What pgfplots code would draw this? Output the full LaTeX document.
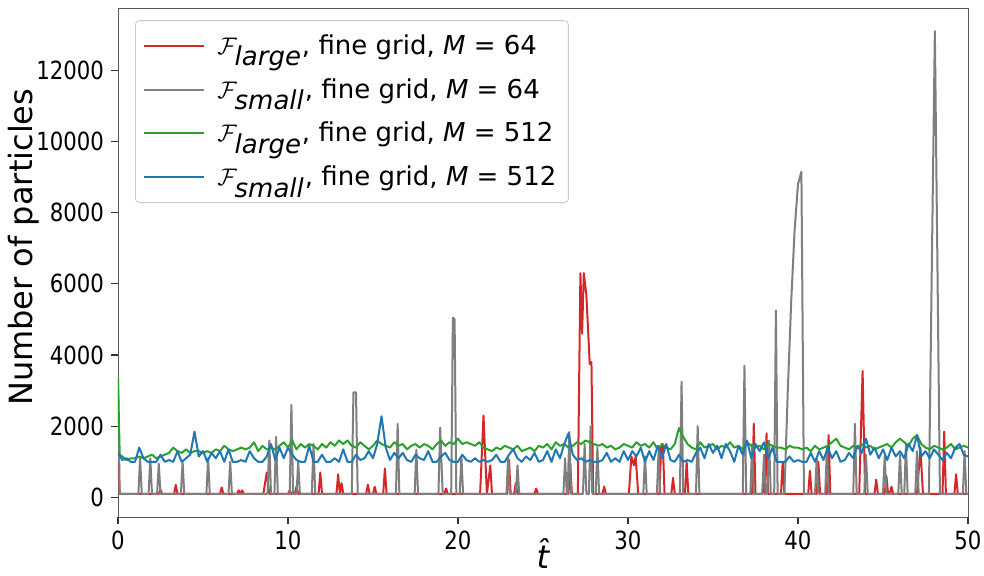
\documentclass[border=0pt]{standalone}
\usepackage{fontspec}
\setmainfont{DejaVu Sans}
\newfontfamily\tickfont[FakeStretch=0.85]{DejaVu Sans}
\usepackage{pgfplots}
\pgfplotsset{compat=1.18}
\definecolor{tred}{HTML}{D62728}
\definecolor{tgray}{HTML}{7F7F7F}
\definecolor{tgreen}{HTML}{2CA02C}
\definecolor{tblue}{HTML}{1F77B4}
\begin{document}
\begin{tikzpicture}
\begin{axis}[
  at={(0,0)}, anchor=south west,
  scale only axis, width=425pt, height=254.5pt,
  xmin=0, xmax=50, ymin=-550, ymax=13750,
  xtick={0,10,20,30,40,50},
  ytick={0,2000,4000,6000,8000,10000,12000},
  scaled y ticks=false, scaled x ticks=false,
  xtick pos=bottom, ytick pos=left,
  tick align=outside,
  major tick length=3.5pt,
  axis line style={black!65},
  tick style={black!80, line width=0.6pt},
  /pgf/number format/assume math mode=true,
  /pgf/number format/1000 sep={},
  ticklabel style={font=\tickfont\fontsize{12.5}{14}\selectfont},
  xlabel={\textit{\^{t}}},
  xlabel style={font=\fontsize{16}{19}\selectfont, at={(axis description cs:0.5,-0.072)}, anchor=center},
  ylabel={Number of particles},
  ylabel style={font=\fontsize{16}{19}\selectfont, at={(axis description cs:-0.111,0.53)}, anchor=center},
  legend style={at={(axis description cs:0.02,0.976)}, anchor=north west,
    draw=black!20, rounded corners=2pt, fill=white,
    font=\fontsize{13}{15}\selectfont, row sep=6.5pt, inner xsep=4pt, inner ysep=5pt,
    /tikz/every odd column/.append style={column sep=4pt}},
  legend cell align=left,
  legend image code/.code={\draw[#1] (0pt,0pt) -- (30pt,0pt);},
  every axis plot/.append style={line width=1pt, line join=round},
]
\addplot[tred] coordinates {
(0,1100)(0.1,100)
(2.4,100)(2.5,220)(2.6,100)
(3.3,100)(3.4,350)(3.5,100)
(6.0,100)(6.1,280)(6.2,100)
(7.0,100)(7.1,200)(7.2,100)(7.3,200)(7.4,100)
(8.55,100)(8.75,700)(8.9,100)
(10.0,100)(10.1,200)(10.2,100)
(10.4,100)(10.5,300)(10.6,100)
(11.8,100)(11.9,700)(12.0,100)
(12.85,100)(12.95,650)(13.05,100)(13.15,400)(13.25,100)
(14.6,100)(14.7,360)(14.8,100)
(15.0,100)(15.1,300)(15.2,100)
(15.6,100)(15.7,810)(15.8,100)
(19.2,100)(19.3,250)(19.4,100)
(21.3,100)(21.5,2300)(21.7,100)(21.9,900)(22.0,100)
(22.9,100)(23.0,1050)(23.1,100)(23.3,100)(23.4,400)(23.5,100)
(24.5,100)(24.6,250)(24.7,100)
(26.5,100)(26.6,950)(26.7,100)
(27.05,100)(27.2,6300)(27.3,4600)(27.4,6300)(27.55,5700)(27.75,3750)(27.85,3800)(27.95,100)
(28.5,100)(28.6,300)(28.7,100)
(30.05,100)(30.2,1150)(30.35,900)(30.45,1150)(30.6,100)
(31.85,100)(31.95,1400)(32.05,1500)(32.15,100)
(32.55,100)(32.65,550)(32.75,100)
(33.35,100)(33.45,1000)(33.55,100)
(37.3,100)(37.4,2070)(37.5,100)
(37.9,100)(38.0,500)(38.05,100)(38.15,1800)(38.25,100)
(39.0,100)(39.1,1000)(39.2,100)
(40.6,100)(40.7,750)(40.8,100)
(41.1,100)(41.2,1000)(41.3,100)
(41.7,100)(41.8,1750)(41.9,100)
(43.6,100)(43.8,3550)(43.95,100)
(44.5,100)(44.6,500)(44.7,100)
(45.1,100)(45.2,600)(45.3,100)(45.4,100)(45.5,300)(45.6,100)
(47.0,100)(47.2,1400)(47.35,100)
(48.5,100)(48.6,1850)(48.7,100)
(49.2,100)(49.3,650)(49.4,100)(50,100)
};
\addlegendentry{$\mathcal{F}_{\textit{large}}$, fine grid, \textit{M} = 64}
\addplot[tgray] coordinates {
(0,3350)(0.1,100)
(1.2,100)(1.3,1100)(1.4,100)
(1.8,100)(1.9,1100)(2.0,100)
(2.3,100)(2.4,950)(2.5,100)
(3.7,100)(3.8,1000)(3.9,100)
(5.2,100)(5.3,1100)(5.4,100)
(6.5,100)(6.6,1000)(6.7,100)
(8.8,100)(8.9,1600)(9.0,100)
(9.2,100)(9.3,1700)(9.4,100)
(10.1,100)(10.2,2600)(10.3,100)
(10.5,100)(10.6,1000)(10.7,100)
(11.4,100)(11.5,1500)(11.6,100)
(13.75,100)(13.85,2950)(14.0,2950)(14.1,100)
(16.35,100)(16.45,2070)(16.55,100)
(17.45,100)(17.55,1340)(17.65,100)
(18.85,100)(18.95,1960)(19.1,100)
(19.6,100)(19.7,5050)(19.8,5000)(19.9,100)
(20.1,100)(20.2,1150)(20.3,100)
(22.85,100)(22.95,1150)(23.05,100)
(23.4,100)(23.5,900)(23.6,100)
(26.2,100)(26.3,1100)(26.4,100)
(26.45,100)(26.55,1840)(26.65,100)
(27.35,100)(27.45,1500)(27.55,100)
(27.7,100)(27.8,2000)(27.9,100)
(28.1,100)(28.2,1400)(28.3,100)
(30.9,100)(31.0,1150)(31.1,100)
(31.7,100)(31.8,1300)(31.9,100)
(33.05,100)(33.15,3250)(33.25,100)
(34.0,100)(34.1,2000)(34.2,100)
(36.75,100)(36.85,3700)(36.95,100)
(37.2,100)(37.3,1500)(37.4,100)
(37.9,100)(38.0,1200)(38.1,100)
(38.2,100)(38.3,1600)(38.4,100)
(38.6,100)(38.7,5250)(38.8,100)
(39.2,100)(39.4,3000)(39.6,5500)(39.8,7500)(40.0,8800)(40.2,9150)(40.35,100)
(41.0,100)(41.1,1100)(41.2,100)
(41.6,100)(41.7,1400)(41.8,100)
(43.25,100)(43.35,2070)(43.45,100)
(43.9,100)(44.0,1200)(44.1,100)
(45.0,100)(45.1,1150)(45.2,100)
(45.9,100)(46.0,1200)(46.1,100)
(46.25,100)(46.35,1500)(46.45,100)
(46.9,100)(47.0,1300)(47.1,100)
(47.7,100)(48.05,13100)(48.35,100)
(49.7,100)(49.8,1300)(49.9,100)(50,100)
};
\addlegendentry{$\mathcal{F}_{\textit{small}}$, fine grid, \textit{M} = 64}
\addplot[tgreen] coordinates {
(0,3350)(0.1,1200)(0.25,1150)(0.5,1050)(0.75,1100)(1.0,1100)(1.25,1150)(1.5,1100)(1.75,1150)(2.0,1200)(2.25,1100)(2.5,1150)(2.75,1200)(3.0,1250)(3.25,1400)(3.5,1300)(3.75,1250)(4.0,1350)(4.25,1250)(4.5,1300)(4.75,1300)
(5.0,1250)(5.25,1300)(5.5,1250)(5.75,1350)(6.0,1300)(6.25,1450)(6.5,1350)(6.75,1300)(7.0,1350)(7.25,1400)(7.5,1350)(7.75,1400)(8.0,1550)(8.25,1300)(8.5,1450)(8.75,1350)(9.0,1400)(9.25,1350)(9.5,1450)(9.75,1550)
(10.0,1400)(10.25,1600)(10.5,1350)(10.75,1500)(11.0,1400)(11.25,1500)(11.5,1450)(11.75,1350)(12.0,1500)(12.25,1400)(12.5,1550)(12.75,1450)(13.0,1600)(13.25,1500)(13.5,1600)(13.75,1450)(14.0,1400)(14.25,1550)(14.5,1450)(14.75,1350)
(15.0,1450)(15.25,1600)(15.5,1500)(15.75,1450)(16.0,1400)(16.25,1550)(16.5,1450)(16.75,1500)(17.0,1350)(17.25,1450)(17.5,1500)(17.75,1400)(18.0,1500)(18.25,1450)(18.5,1350)(18.75,1500)(19.0,1600)(19.25,1450)(19.5,1550)(19.75,1500)
(20.0,1650)(20.25,1500)(20.5,1550)(20.75,1500)(21.0,1450)(21.25,1550)(21.5,1400)(21.75,1350)(22.0,1300)(22.25,1400)(22.5,1350)(22.75,1450)(23.0,1400)(23.25,1350)(23.5,1450)(23.75,1300)(24.0,1350)(24.25,1400)(24.5,1300)(24.75,1450)
(25.0,1400)(25.25,1500)(25.5,1350)(25.75,1550)(26.0,1450)(26.25,1500)(26.5,1400)(26.75,1450)(27.0,1550)(27.25,1500)(27.5,1600)(27.75,1550)(28.0,1500)(28.25,1450)(28.5,1500)(28.75,1400)(29.0,1450)(29.25,1350)(29.5,1400)(29.75,1500)
(30.0,1450)(30.25,1400)(30.5,1550)(30.75,1450)(31.0,1500)(31.25,1400)(31.5,1550)(31.75,1350)(32.0,1500)(32.25,1400)(32.5,1350)(32.75,1500)(33.0,1950)(33.25,1700)(33.5,1500)(33.75,1400)(34.0,1350)(34.25,1550)(34.5,1400)(34.75,1450)
(35.0,1500)(35.25,1350)(35.5,1450)(35.75,1400)(36.0,1550)(36.25,1400)(36.5,1450)(36.75,1350)(37.0,1550)(37.25,1450)(37.5,1400)(37.75,1450)(38.0,1350)(38.25,1500)(38.5,1450)(38.75,1400)(39.0,1400)(39.25,1350)(39.5,1450)(39.75,1400)
(40.0,1400)(40.25,1350)(40.5,1400)(40.75,1300)(41.0,1450)(41.25,1350)(41.5,1400)(41.75,1450)(42.0,1550)(42.25,1650)(42.5,1450)(42.75,1400)(43.0,1350)(43.25,1450)(43.5,1400)(43.75,1500)(44.0,1400)(44.25,1450)(44.5,1350)(44.75,1400)
(45.0,1450)(45.25,1500)(45.5,1400)(45.75,1550)(46.0,1650)(46.25,1550)(46.5,1450)(46.75,1650)(47.0,1750)(47.25,1500)(47.5,1400)(47.75,1350)(48.0,1450)(48.25,1400)(48.5,1350)(48.75,1400)(49.0,1500)(49.25,1350)(49.5,1400)(49.75,1450)(50.0,1400)
};
\addlegendentry{$\mathcal{F}_{\textit{large}}$, fine grid, \textit{M} = 512}
\addplot[tblue] coordinates {
(0,1250)(0.25,1050)(0.5,1100)(0.75,1000)(1.0,1000)(1.25,1400)(1.5,1100)(1.75,1000)(2.0,1000)(2.25,1000)(2.5,1200)(2.75,1000)(3.0,1050)(3.25,1000)(3.5,1300)(3.75,1000)(4.0,1100)(4.25,1200)(4.5,1850)(4.75,1150)
(5.0,1300)(5.25,1000)(5.5,1250)(5.75,1100)(6.0,1300)(6.25,1000)(6.5,1350)(6.75,1000)(7.0,1000)(7.25,1050)(7.5,1000)(7.75,1300)(8.0,1100)(8.25,1000)(8.5,1000)(8.75,1150)(9.0,1500)(9.25,1050)(9.5,1400)(9.75,1100)
(10.0,1400)(10.25,1200)(10.5,1050)(10.75,1000)(11.0,1000)(11.25,1450)(11.5,1000)(11.75,1000)(12.0,1200)(12.25,1000)(12.5,1000)(12.75,1100)(13.0,1000)(13.25,1350)(13.5,1000)(13.75,1000)(14.0,1200)(14.25,1050)(14.5,1100)(14.75,1300)
(15.0,1100)(15.25,1500)(15.5,2280)(15.75,1400)(16.0,1050)(16.25,1250)(16.5,1100)(16.75,1250)(17.0,1050)(17.25,1000)(17.5,1200)(17.75,1100)(18.0,1050)(18.25,1300)(18.5,1000)(18.75,1000)(19.0,1150)(19.25,1250)(19.5,1050)(19.75,1000)
(20.0,1000)(20.25,1200)(20.5,1050)(20.75,1000)(21.0,1100)(21.25,1000)(21.5,1050)(21.75,1000)(22.0,1050)(22.25,1200)(22.5,1000)(22.75,1000)(23.0,1200)(23.25,1350)(23.5,1100)(23.75,1000)(24.0,1150)(24.25,1050)(24.5,1250)(24.75,1000)
(25.0,1050)(25.25,1300)(25.5,1000)(25.75,1350)(26.0,1100)(26.25,1500)(26.5,1800)(26.75,1200)(27.0,1050)(27.25,1100)(27.5,1000)(27.75,1050)(28.0,1000)(28.25,1000)(28.5,1050)(28.75,1250)(29.0,1000)(29.25,1100)(29.5,1000)(29.75,1300)
(30.0,1050)(30.25,1300)(30.5,1150)(30.75,1400)(31.0,1000)(31.25,1300)(31.5,1050)(31.75,1450)(32.0,1100)(32.25,1500)(32.5,1050)(32.75,1000)(33.0,1200)(33.25,1000)(33.5,1050)(33.75,1000)(34.0,1250)(34.25,1400)(34.5,1100)(34.75,1500)
(35.0,1250)(35.25,1450)(35.5,1100)(35.75,1500)(36.0,1300)(36.25,1000)(36.5,1450)(36.75,1200)(37.0,1600)(37.25,1100)(37.5,1500)(37.75,1300)(38.0,1550)(38.25,1100)(38.5,1400)(38.75,1000)(39.0,1000)(39.25,1000)(39.5,1150)(39.75,1000)
(40.0,1050)(40.25,1000)(40.5,1000)(40.75,1250)(41.0,1000)(41.25,1300)(41.5,1050)(41.75,1400)(42.0,1100)(42.25,1300)(42.5,1000)(42.75,1050)(43.0,1250)(43.25,1100)(43.5,1450)(43.75,1250)(44.0,1650)(44.25,1200)(44.5,1400)(44.75,1100)
(45.0,1350)(45.25,1050)(45.5,1400)(45.75,1150)(46.0,1300)(46.25,1100)(46.5,1500)(46.75,1300)(47.0,1750)(47.25,1150)(47.5,1300)(47.75,1100)(48.0,1350)(48.25,1200)(48.5,1050)(48.75,1250)(49.0,1100)(49.25,1400)(49.5,1500)(49.75,1200)(50.0,1150)
};
\addlegendentry{$\mathcal{F}_{\textit{small}}$, fine grid, \textit{M} = 512}
\end{axis}
\pgfresetboundingbox
\path[use as bounding box] (-59pt,-29.5pt) rectangle (433pt,258.5pt);
\end{tikzpicture}
\end{document}
